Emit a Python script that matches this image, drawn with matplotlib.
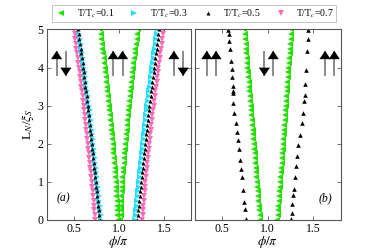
import numpy as np
import matplotlib
matplotlib.use("Agg")
import matplotlib.pyplot as plt

plt.rcParams['font.family'] = ['Liberation Serif', 'DejaVu Serif']
plt.rcParams['mathtext.fontset'] = 'stix'

# sample points along L_N/xi_S for the dense curves
L = [0.000, 0.125, 0.250, 0.375, 0.500, 0.625, 0.750, 0.875, 1.000, 1.125,
     1.250, 1.375, 1.500, 1.625, 1.750, 1.875, 2.000, 2.125, 2.250, 2.375,
     2.500, 2.625, 2.750, 2.875, 3.000, 3.125, 3.250, 3.375, 3.500, 3.625,
     3.750, 3.875, 4.000, 4.125, 4.250, 4.375, 4.500, 4.625, 4.750, 4.875, 5.000]

# panel (a)
a_green_l = [0.985, 0.982, 0.980, 0.977, 0.975, 0.972, 0.970, 0.967, 0.965, 0.961,
             0.956, 0.952, 0.948, 0.943, 0.939, 0.934, 0.930, 0.925, 0.920, 0.915,
             0.910, 0.905, 0.900, 0.895, 0.890, 0.884, 0.879, 0.873, 0.868, 0.862,
             0.856, 0.851, 0.845, 0.838, 0.831, 0.824, 0.817, 0.811, 0.804, 0.797, 0.790]
a_green_r = [1.015, 1.018, 1.020, 1.023, 1.025, 1.028, 1.030, 1.033, 1.035, 1.039,
             1.044, 1.048, 1.052, 1.057, 1.061, 1.066, 1.070, 1.075, 1.080, 1.085,
             1.090, 1.095, 1.100, 1.105, 1.110, 1.116, 1.121, 1.127, 1.132, 1.138,
             1.144, 1.149, 1.155, 1.162, 1.169, 1.176, 1.183, 1.189, 1.196, 1.203, 1.210]
a_cyan_l = [0.803, 0.798, 0.792, 0.787, 0.782, 0.776, 0.771, 0.765, 0.760, 0.754,
            0.749, 0.743, 0.737, 0.732, 0.726, 0.721, 0.715, 0.709, 0.703, 0.697,
            0.691, 0.686, 0.680, 0.674, 0.668, 0.661, 0.654, 0.647, 0.640, 0.633,
            0.626, 0.619, 0.612, 0.605, 0.597, 0.590, 0.582, 0.575, 0.568, 0.560, 0.553]
a_cyan_r = [1.182, 1.187, 1.193, 1.198, 1.203, 1.209, 1.214, 1.220, 1.225, 1.231,
            1.236, 1.242, 1.248, 1.253, 1.259, 1.264, 1.270, 1.276, 1.282, 1.288,
            1.294, 1.299, 1.305, 1.311, 1.317, 1.324, 1.331, 1.338, 1.345, 1.352,
            1.359, 1.366, 1.373, 1.380, 1.388, 1.395, 1.403, 1.410, 1.417, 1.425, 1.432]
a_black_l = [0.790, 0.784, 0.779, 0.773, 0.768, 0.762, 0.756, 0.751, 0.745, 0.739,
             0.734, 0.728, 0.722, 0.717, 0.711, 0.706, 0.700, 0.694, 0.689, 0.683,
             0.678, 0.672, 0.666, 0.661, 0.655, 0.649, 0.642, 0.636, 0.629, 0.623,
             0.616, 0.610, 0.603, 0.596, 0.589, 0.582, 0.575, 0.569, 0.562, 0.555, 0.548]
a_black_r = [1.205, 1.211, 1.216, 1.222, 1.227, 1.233, 1.239, 1.244, 1.250, 1.256,
             1.261, 1.267, 1.273, 1.278, 1.284, 1.289, 1.295, 1.301, 1.306, 1.312,
             1.317, 1.323, 1.329, 1.334, 1.340, 1.346, 1.353, 1.359, 1.366, 1.372,
             1.379, 1.385, 1.392, 1.399, 1.406, 1.413, 1.420, 1.426, 1.433, 1.440, 1.447]
a_pink_l = [0.737, 0.732, 0.728, 0.723, 0.719, 0.714, 0.709, 0.705, 0.700, 0.695,
            0.689, 0.684, 0.679, 0.673, 0.668, 0.662, 0.657, 0.651, 0.645, 0.639,
            0.633, 0.628, 0.622, 0.616, 0.610, 0.603, 0.597, 0.590, 0.583, 0.576,
            0.570, 0.563, 0.556, 0.549, 0.542, 0.535, 0.528, 0.521, 0.514, 0.507, 0.500]
a_pink_r = [1.258, 1.263, 1.267, 1.272, 1.276, 1.281, 1.286, 1.290, 1.295, 1.300,
            1.306, 1.311, 1.316, 1.322, 1.327, 1.333, 1.338, 1.344, 1.350, 1.356,
            1.362, 1.367, 1.373, 1.379, 1.385, 1.392, 1.398, 1.405, 1.412, 1.419,
            1.425, 1.432, 1.439, 1.446, 1.453, 1.460, 1.467, 1.474, 1.481, 1.488, 1.495]

# panel (b)
b_green_l = [0.914, 0.910, 0.905, 0.901, 0.897, 0.893, 0.888, 0.884, 0.880, 0.875,
             0.871, 0.867, 0.862, 0.858, 0.854, 0.850, 0.845, 0.841, 0.837, 0.832,
             0.828, 0.824, 0.819, 0.815, 0.811, 0.807, 0.802, 0.798, 0.794, 0.789,
             0.785, 0.781, 0.776, 0.772, 0.768, 0.764, 0.759, 0.755, 0.751, 0.746, 0.742]
b_green_r = [1.105, 1.109, 1.113, 1.116, 1.120, 1.124, 1.128, 1.132, 1.136, 1.139,
             1.143, 1.147, 1.151, 1.155, 1.159, 1.162, 1.166, 1.170, 1.174, 1.178,
             1.182, 1.185, 1.189, 1.193, 1.197, 1.201, 1.204, 1.208, 1.212, 1.216,
             1.220, 1.224, 1.227, 1.231, 1.235, 1.239, 1.243, 1.247, 1.250, 1.254, 1.258]
b_black_l_L = [0.03, 0.28, 0.48, 0.79, 1.12, 1.34, 1.58, 1.86, 2.10, 2.30, 2.54, 2.81,
               3.07, 3.32, 3.38, 3.51, 3.74, 3.96, 4.18, 4.50, 4.71, 4.87, 4.98]
b_black_l = [0.760, 0.749, 0.742, 0.731, 0.720, 0.709, 0.698, 0.680, 0.669, 0.658, 0.647, 0.632,
             0.621, 0.618, 0.614, 0.614, 0.607, 0.607, 0.596, 0.585, 0.577, 0.574, 0.566]
b_black_r_L = [0.03, 0.19, 0.42, 0.66, 0.81, 1.12, 1.42, 1.69, 1.96, 2.24, 2.54, 2.82,
               3.11, 3.27, 3.57, 3.93, 4.43, 4.74, 4.98]
b_black_r = [1.255, 1.263, 1.269, 1.277, 1.285, 1.299, 1.313, 1.324, 1.335, 1.354, 1.376, 1.383,
             1.394, 1.405, 1.409, 1.420, 1.434, 1.438, 1.445]

labels = [r'T/T$_c$=0.1', r'T/T$_c$=0.3', r'T/T$_c$=0.5', r'T/T$_c$=0.7']
c_green = '#22e000'
c_cyan = '#20e0ff'
c_black = 'k'
c_pink = '#ff6eb4'

fig = plt.figure(figsize=(3.78, 2.52), dpi=100)
ax1 = fig.add_axes([0.124, 0.127, 0.381, 0.756])
ax2 = fig.add_axes([0.516, 0.127, 0.385, 0.756])

ms = 3.8
h1, = ax1.plot(a_green_l, L, '<', color=c_green, ms=ms, mew=0, ls='none')
ax1.plot(a_green_r, L, '<', color=c_green, ms=ms, mew=0, ls='none')
h2, = ax1.plot(a_cyan_l, L, '>', color=c_cyan, ms=ms, mew=0, ls='none')
ax1.plot(a_cyan_r, L, '>', color=c_cyan, ms=ms, mew=0, ls='none')
h4, = ax1.plot(a_pink_l, L, 'v', color=c_pink, ms=ms, mew=0, ls='none')
ax1.plot(a_pink_r, L, 'v', color=c_pink, ms=ms, mew=0, ls='none')
h3, = ax1.plot(a_black_l, L, '^', color=c_black, ms=2.9, mew=0, ls='none')
ax1.plot(a_black_r, L, '^', color=c_black, ms=2.9, mew=0, ls='none')

ax2.plot(b_green_l, L, '<', color=c_green, ms=4.0, mew=0, ls='none')
ax2.plot(b_green_r, L, '<', color=c_green, ms=4.0, mew=0, ls='none')
ax2.plot(b_black_l, b_black_l_L, '^', color=c_black, ms=3.3, mew=0, ls='none')
ax2.plot(b_black_r, b_black_r_L, '^', color=c_black, ms=3.3, mew=0, ls='none')


def spin(ax, x, up):
    lo, hi = 3.78, 4.44
    ax.plot([x, x], [lo, hi], color='#777777', lw=1.2, solid_capstyle='butt')
    style = '-|>,head_width=0.4,head_length=0.6'
    if up:
        ax.annotate('', xy=(x, hi), xytext=(x, hi - 0.25),
                    arrowprops=dict(arrowstyle=style, color='k', lw=0,
                                    shrinkA=0, shrinkB=0, mutation_scale=10))
    else:
        ax.annotate('', xy=(x, lo), xytext=(x, lo + 0.25),
                    arrowprops=dict(arrowstyle=style, color='k', lw=0,
                                    shrinkA=0, shrinkB=0, mutation_scale=10))


for x, up in [(0.308, True), (0.411, False), (0.937, True), (1.041, True),
              (1.611, True), (1.714, False)]:
    spin(ax1, x, up)
for x, up in [(0.329, True), (0.431, True), (0.962, False), (1.060, True),
              (1.629, True), (1.731, True)]:
    spin(ax2, x, up)

ax1.text(0.38, 0.58, '(a)', style='italic', fontsize=8.5, ha='center', va='center')
ax2.text(1.63, 0.58, '(b)', style='italic', fontsize=8.5, ha='center', va='center')

for ax in (ax1, ax2):
    ax.set_xlim(0.2, 1.8)
    ax.set_ylim(0, 5)
    ax.set_xticks([0.5, 1.0, 1.5])
    ax.set_yticks([0, 1, 2, 3, 4, 5])
    ax.tick_params(direction='in', top=True, right=True, labelsize=8.5,
                   length=3, width=0.6, color='#555555', pad=2.5)
    for s in ax.spines.values():
        s.set_color('#555555')
        s.set_linewidth(0.8)
    ax.set_xlabel(r'$\phi/\pi$', fontsize=9.5, labelpad=-1)
ax2.tick_params(labelleft=False)
ax1.set_ylabel(r'L$_N$/$\xi_S$', fontsize=9.5, labelpad=1)

leg = fig.legend([h1, h2, h3, h4], labels, loc='lower left',
                 bbox_to_anchor=(0.124, 0.893, 0.778, 0.058), mode='expand',
                 ncol=4, fontsize=7, frameon=True, fancybox=False,
                 borderpad=0.25, handletextpad=0.8, columnspacing=1.0,
                 handlelength=1.5, markerscale=1.0)
leg.get_frame().set_edgecolor('#aaaaaa')
leg.get_frame().set_linewidth(0.6)

fig.savefig('out.png', dpi=100)
